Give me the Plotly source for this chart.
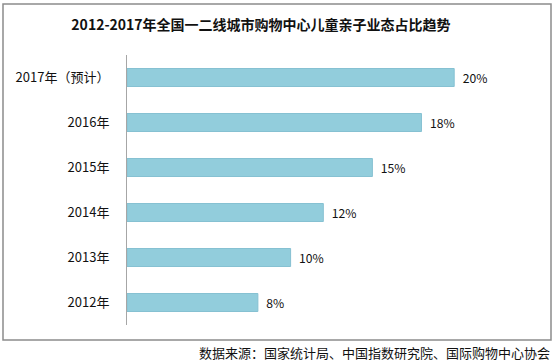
import plotly.graph_objects as go

categories = ["2012年", "2013年", "2014年", "2015年", "2016年", "2017年（预计）"]
values = [8, 10, 12, 15, 18, 20]
value_labels = ["8%", "10%", "12%", "15%", "18%", "20%"]
title_text = "2012-2017年全国一二线城市购物中心儿童亲子业态占比趋势"
source_text = "数据来源：国家统计局、中国指数研究院、国际购物中心协会"

W, H = 554, 364
L, R, T, B = 127, 18, 55, 39
pw = W - L - R
ph = H - T - B

def px_x(px):
    return (px - L) / pw

def px_y(py):
    return (H - B - py) / ph

FONT = "Noto Sans CJK SC, Noto Sans, sans-serif"

fig = go.Figure(go.Bar(
    y=categories,
    x=values,
    orientation="h",
    marker=dict(color="#92CDDC", line=dict(color="#86C1D2", width=1)),
    text=["\u00a0\u00a0" + t for t in value_labels],
    textposition="outside",
    textfont=dict(family=FONT, size=13.5, color="#111111"),
    cliponaxis=False,
    width=0.4,
))

fig.update_layout(
    width=W, height=H,
    margin=dict(l=L, r=R, t=T, b=B, autoexpand=False),
    paper_bgcolor="white",
    plot_bgcolor="white",
    showlegend=False,
    title=dict(
        text="<b>" + title_text + "</b>",
        x=261 / W, xanchor="center",
        y=1 - 25 / H, yanchor="middle",
        font=dict(family=FONT, size=14, color="#111111"),
    ),
    xaxis=dict(range=[0, 25], visible=False, fixedrange=True),
    yaxis=dict(
        showline=True, linecolor="#A6A6A6", linewidth=1,
        showgrid=False, zeroline=False, ticks="",
        ticklabelstandoff=14,
        tickfont=dict(family=FONT, size=13, color="#111111"),
        range=[-0.5, 5.5],
        fixedrange=True,
    ),
    annotations=[dict(
        text=source_text,
        xref="paper", yref="paper",
        x=px_x(552), y=px_y(352),
        xanchor="right", yanchor="middle",
        showarrow=False,
        font=dict(family=FONT, size=13, color="#111111"),
    )],
    shapes=[dict(
        type="rect", xref="paper", yref="paper",
        x0=px_x(3), x1=px_x(551), y0=px_y(340), y1=px_y(4),
        line=dict(color="#8C8C8C", width=1.5),
        fillcolor="rgba(0,0,0,0)", layer="below",
    )],
)

fig.write_html(
    "out.html",
    config={"displayModeBar": False},
    post_script="document.body.style.margin='0';document.body.style.overflow='hidden';",
)
